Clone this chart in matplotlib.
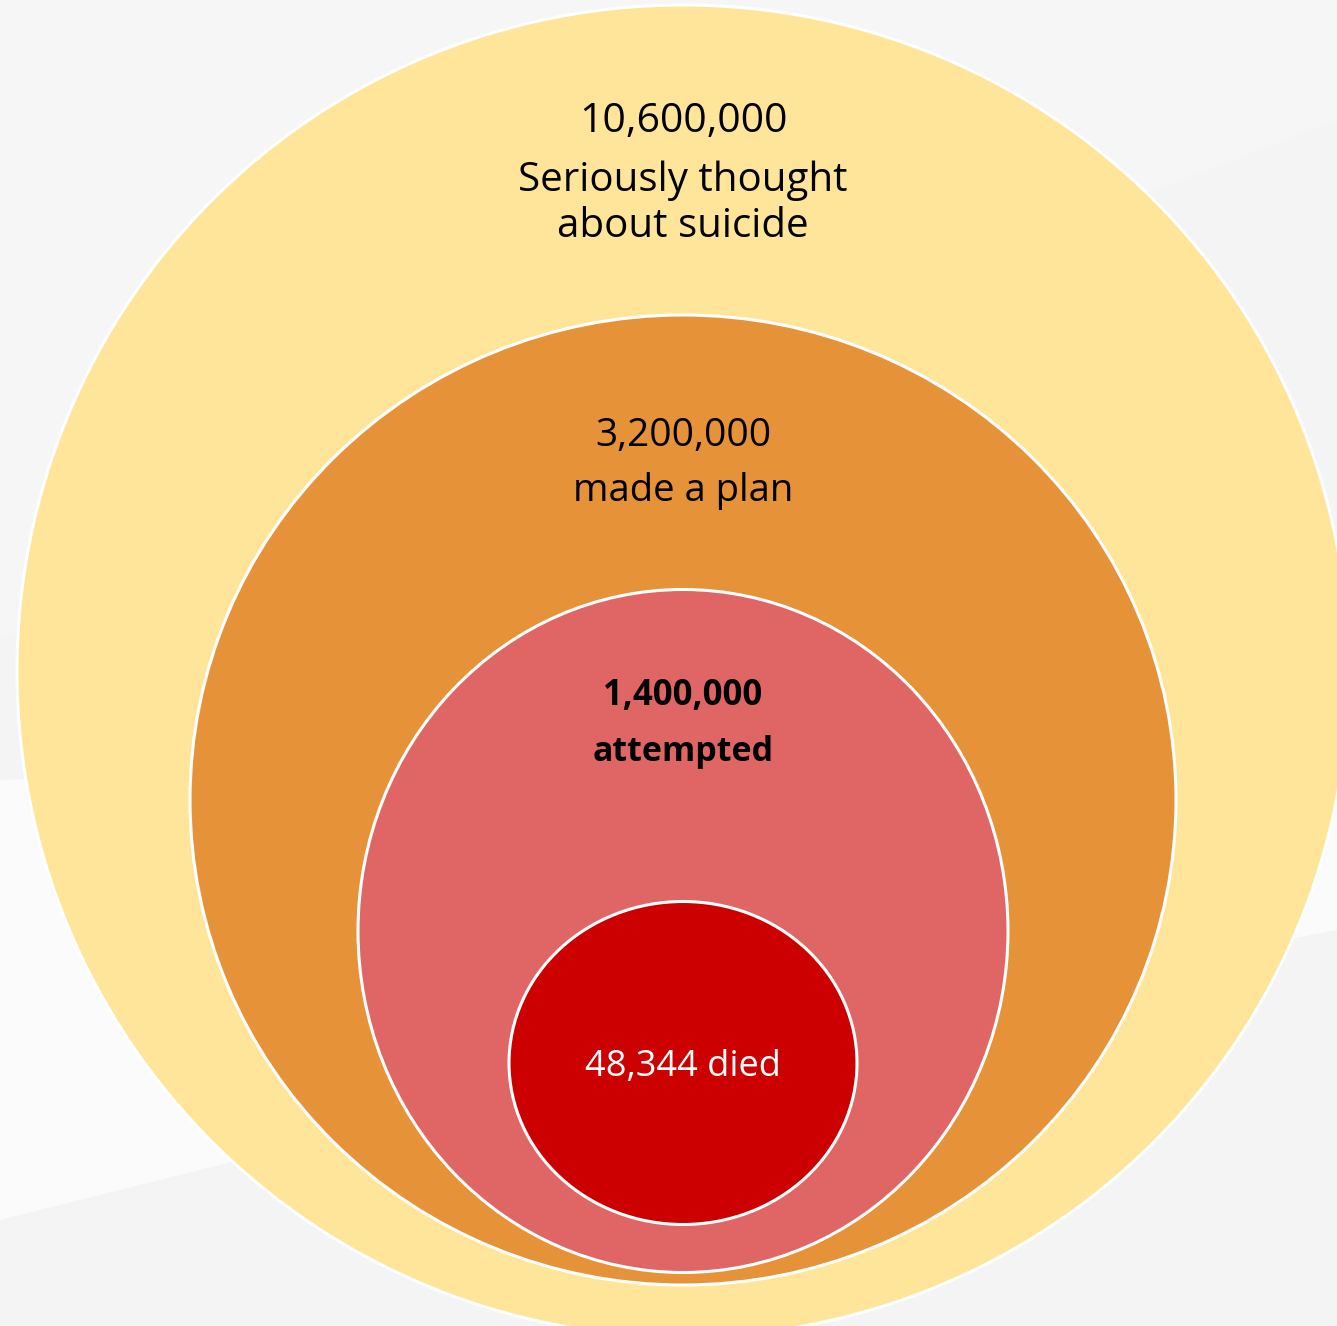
import matplotlib.pyplot as plt
from matplotlib.patches import Ellipse, Polygon

# values and labels of the nested groups (outer to inner)
values = [10600000, 3200000, 1400000, 48344]
captions = ['Seriously thought\nabout suicide', 'made a plan', 'attempted', 'died']
fills = ['#FFE59A', '#E59239', '#E06666', '#CC0000']

# ellipse layout in pixel coords: center x, center y, width, height
centers_x = [683, 683, 683, 683]
centers_y = [671, 800, 931, 1063]
widths = [1332, 986, 650, 348]
heights = [1332, 970, 683, 323]

fig = plt.figure(figsize=(13.37, 13.26), dpi=100)
fig.patch.set_facecolor('#f4f4f4')
ax = fig.add_axes([0, 0, 1, 1])
ax.set_xlim(0, 1337)
ax.set_ylim(1326, 0)
ax.axis('off')

# faint background shapes
ax.add_patch(Polygon([[0, 640], [1337, 120], [1337, 0], [0, 0]], closed=True,
                     facecolor='#f6f6f6', edgecolor='none', zorder=0))
ax.add_patch(Polygon([[0, 780], [0, 1220], [600, 1070], [1337, 930], [1337, 720]], closed=True,
                     facecolor='#fbfbfb', edgecolor='none', zorder=0))

for cx, cy, w, h, c in zip(centers_x, centers_y, widths, heights, fills):
    ax.add_patch(Ellipse((cx, cy), w, h, facecolor=c, edgecolor='white', linewidth=2.2, zorder=2))

font = 'Open Sans'
ax.text(683, 122, f'{values[0]:,}', ha='center', va='center', fontsize=29.5, family=font, zorder=3)
ax.text(683, 204, captions[0], ha='center', va='center', fontsize=29, family=font,
        linespacing=1.17, zorder=3)
ax.text(683, 436, f'{values[1]:,}', ha='center', va='center', fontsize=28, family=font, zorder=3)
ax.text(683, 491, captions[1], ha='center', va='center', fontsize=27.5, family=font, zorder=3)
ax.text(683, 696, f'{values[2]:,}', ha='center', va='center', fontsize=25, family=font,
        fontweight='bold', zorder=3)
ax.text(683, 752, captions[2], ha='center', va='center', fontsize=24.5, family=font,
        fontweight='bold', zorder=3)
ax.text(683, 1067, f'{values[3]:,} {captions[3]}', ha='center', va='center', fontsize=26,
        family=font, color='white', zorder=3)

plt.savefig('out.png', dpi=100, facecolor=fig.get_facecolor())
